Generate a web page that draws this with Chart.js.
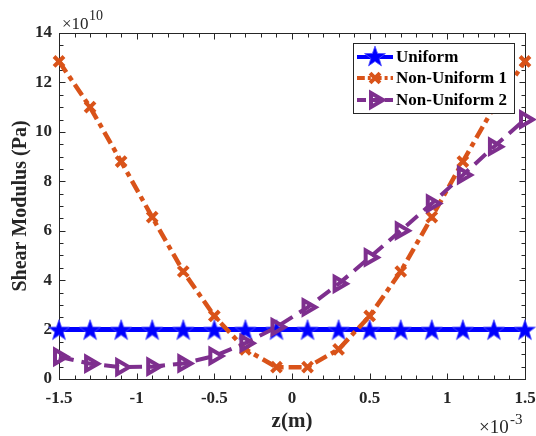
<!DOCTYPE html>
<html>
<head>
<meta charset="utf-8">
<script src="https://cdn.jsdelivr.net/npm/chart.js@4.4.1/dist/chart.umd.min.js"></script>
<style>
  html, body { margin: 0; padding: 0; background: #fff; }
  #wrap { width: 536px; height: 436px; position: relative; }
</style>
</head>
<body>
<div id="wrap"><canvas id="shearChart" width="536" height="436"></canvas></div>
<script>
// ===============================
// Data (z in units of 1e-3 m, modulus in units of 1e10 Pa)
// ===============================
const zValues = [-1.5, -1.3, -1.1, -0.9, -0.7, -0.5, -0.3, -0.1, 0.1, 0.3, 0.5, 0.7, 0.9, 1.1, 1.3, 1.5];
const uniform = [2, 2, 2, 2, 2, 2, 2, 2, 2, 2, 2, 2, 2, 2, 2, 2];
const nonUniform1 = [12.85, 11.0, 8.8, 6.55, 4.35, 2.55, 1.2, 0.48, 0.48, 1.2, 2.55, 4.35, 6.55, 8.8, 11.0, 12.85];
const nonUniform2 = [0.9, 0.62, 0.48, 0.5, 0.63, 0.93, 1.45, 2.1, 2.9, 3.85, 4.92, 6.0, 7.1, 8.25, 9.4, 10.5];

const xTicks = [-1.5, -1, -0.5, 0, 0.5, 1, 1.5];
const yTicks = [0, 2, 4, 6, 8, 10, 12, 14];

const seriesNames = ["Uniform", "Non-Uniform 1", "Non-Uniform 2"];

const BLUE = "#0000ff";
const ORANGE = "#d95319";
const PURPLE = "#7e2f8e";
const AXIS = "#262626";
const SERIF = "'Liberation Serif', 'Times New Roman', serif";

function toPoints(vals) {
    return zValues.map((z, i) => ({ x: z, y: vals[i] }));
}

// filled five point star marker
function makeStar(size, color) {
    const c = document.createElement("canvas");
    c.width = size;
    c.height = size;
    const ctx = c.getContext("2d");
    const cx = size / 2, cy = size / 2 + 1;
    const outer = size / 2 - 1;
    const inner = outer * 0.4;
    ctx.beginPath();
    for (let i = 0; i < 10; i++) {
        const r = i % 2 === 0 ? outer : inner;
        const a = -Math.PI / 2 + i * Math.PI / 5;
        const px = cx + r * Math.cos(a);
        const py = cy + r * Math.sin(a);
        if (i === 0) ctx.moveTo(px, py); else ctx.lineTo(px, py);
    }
    ctx.closePath();
    ctx.fillStyle = color;
    ctx.fill();
    ctx.strokeStyle = "rgba(80,80,255,0.8)";
    ctx.lineWidth = 1;
    ctx.stroke();
    return c;
}

const starImg = makeStar(24, BLUE);

const seriesStyles = [
    { color: BLUE, dash: [], pointStyle: starImg, radius: 11, pointBorder: 1, rotation: 0, width: 5 },
    { color: ORANGE, dash: [13, 5, 5, 5], pointStyle: "crossRot", radius: 7, pointBorder: 4, rotation: 0, width: 4.5 },
    { color: PURPLE, dash: [15, 8], pointStyle: "triangle", radius: 8, pointBorder: 4, rotation: 90, width: 4 }
];

// ===============================
// Frame + inward ticks (MATLAB style box)
// ===============================
const framePlugin = {
    id: "frame",
    beforeDatasetsDraw(chart) {
        const { ctx, chartArea: a, scales } = chart;
        const xs = scales.x, ys = scales.y;
        ctx.save();
        ctx.strokeStyle = AXIS;
        ctx.lineWidth = 1;

        const tick = (x1, y1, x2, y2) => {
            ctx.beginPath();
            ctx.moveTo(Math.round(x1) + 0.5, Math.round(y1) + 0.5);
            ctx.lineTo(Math.round(x2) + 0.5, Math.round(y2) + 0.5);
            ctx.stroke();
        };

        // x ticks
        for (let i = -15; i <= 15; i++) {
            const v = i / 10;
            const px = xs.getPixelForValue(v);
            const len = i % 5 === 0 ? 6 : 4;
            tick(px, a.bottom, px, a.bottom - len);
            tick(px, a.top, px, a.top + len);
        }
        // y ticks
        for (let i = 0; i <= 28; i++) {
            const v = i / 2;
            const py = ys.getPixelForValue(v);
            const len = i % 4 === 0 ? 6 : 4;
            tick(a.left, py, a.left + len, py);
            tick(a.right, py, a.right - len, py);
        }

        ctx.strokeRect(Math.round(a.left) + 0.5, Math.round(a.top) + 0.5,
            Math.round(a.right - a.left), Math.round(a.bottom - a.top));

        // exponent labels
        ctx.fillStyle = AXIS;
        ctx.textBaseline = "alphabetic";
        ctx.textAlign = "left";
        ctx.font = "17px " + SERIF;
        ctx.fillText("\u00d710", a.left + 3, 29);
        ctx.font = "14px " + SERIF;
        ctx.fillText("10", a.left + 30, 20);

        ctx.font = "19px " + SERIF;
        ctx.fillText("\u00d710", 479, 433);
        ctx.font = "15px " + SERIF;
        ctx.fillText("-3", 510, 424);
        ctx.restore();
    }
};

// ===============================
// Legend box inside plot area
// ===============================
const legendPlugin = {
    id: "boxLegend",
    afterDatasetsDraw(chart) {
        const { ctx } = chart;
        const box = { x: 353, y: 43, w: 161, h: 70 };
        const rows = [57, 78, 100];
        ctx.save();
        ctx.fillStyle = "#fff";
        ctx.fillRect(box.x, box.y, box.w, box.h);
        ctx.strokeStyle = AXIS;
        ctx.lineWidth = 1;
        ctx.strokeRect(box.x + 0.5, box.y + 0.5, box.w, box.h);

        seriesNames.forEach((name, i) => {
            const s = seriesStyles[i];
            const y = rows[i];
            ctx.strokeStyle = s.color;
            ctx.fillStyle = s.color;
            ctx.lineWidth = 4;
            ctx.setLineDash(s.dash.length ? s.dash.map(d => d * 0.6) : []);
            ctx.beginPath();
            ctx.moveTo(357, y);
            ctx.lineTo(393, y);
            ctx.stroke();
            ctx.setLineDash([]);

            if (i === 0) {
                ctx.drawImage(starImg, 375 - 12, y - 13);
            } else {
                ctx.lineWidth = s.pointBorder;
                ctx.fillStyle = "rgba(0,0,0,0)";
                Chart.helpers.drawPoint(ctx, {
                    pointStyle: s.pointStyle,
                    rotation: s.rotation,
                    radius: s.radius,
                    borderWidth: s.pointBorder
                }, 375, y);
            }

            ctx.fillStyle = "#000";
            ctx.font = "bold 17px " + SERIF;
            ctx.textAlign = "left";
            ctx.textBaseline = "middle";
            ctx.fillText(name, 396, y + 1);
        });
        ctx.restore();
    }
};

const seriesData = [uniform, nonUniform1, nonUniform2];

const datasets = seriesData.map((vals, i) => {
    const s = seriesStyles[i];
    return {
        label: seriesNames[i],
        data: toPoints(vals),
        borderColor: s.color,
        backgroundColor: i === 0 ? s.color : "rgba(0,0,0,0)",
        borderWidth: s.width,
        borderDash: s.dash,
        pointStyle: s.pointStyle,
        pointRadius: s.radius,
        pointBorderWidth: s.pointBorder,
        pointBorderColor: s.color,
        pointBackgroundColor: i === 0 ? s.color : "rgba(0,0,0,0)",
        pointRotation: s.rotation,
        tension: 0,
        clip: false,
        order: 3 - i
    };
});

new Chart(document.getElementById("shearChart"), {
    type: "line",
    data: { datasets: datasets },
    options: {
        responsive: false,
        animation: false,
        events: [],
        layout: { autoPadding: false, padding: { left: 0, top: 33, right: 11, bottom: 0 } },
        plugins: {
            legend: { display: false },
            tooltip: { enabled: false }
        },
        scales: {
            x: {
                type: "linear",
                min: -1.5,
                max: 1.5,
                afterFit(scale) {
                    scale.height = 57;
                    scale.paddingLeft = 0;
                    scale.paddingRight = 0;
                },
                afterBuildTicks(scale) { scale.ticks = xTicks.map(v => ({ value: v })); },
                grid: { display: false, drawTicks: false },
                border: { display: false },
                ticks: {
                    padding: 9,
                    color: AXIS,
                    font: { family: SERIF, size: 17, weight: "bold" },
                    callback: v => String(v)
                },
                title: {
                    display: true,
                    text: "z(m)",
                    color: AXIS,
                    font: { family: SERIF, size: 21, weight: "bold" },
                    padding: { top: 0, bottom: 2 }
                }
            },
            y: {
                type: "linear",
                min: 0,
                max: 14,
                afterFit(scale) {
                    scale.width = 59;
                    scale.paddingTop = 0;
                    scale.paddingBottom = 0;
                },
                afterBuildTicks(scale) { scale.ticks = yTicks.map(v => ({ value: v })); },
                grid: { display: false, drawTicks: false },
                border: { display: false },
                ticks: {
                    padding: 7,
                    color: AXIS,
                    font: { family: SERIF, size: 17, weight: "bold" },
                    callback: v => String(v)
                },
                title: {
                    display: true,
                    text: "Shear Modulus (Pa)",
                    color: AXIS,
                    font: { family: SERIF, size: 20, weight: "bold" },
                    padding: { top: 9, bottom: 0 }
                }
            }
        }
    },
    plugins: [framePlugin, legendPlugin]
});
</script>
</body>
</html>
